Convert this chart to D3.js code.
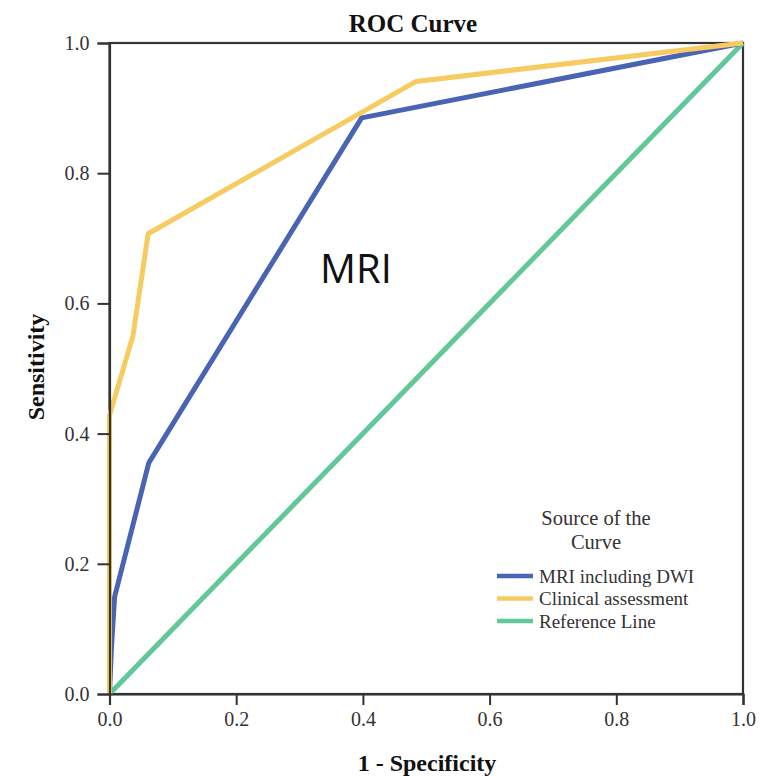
<!DOCTYPE html>
<html><head><meta charset="utf-8">
<script src="https://cdn.jsdelivr.net/npm/d3@7"></script>
<style>body{margin:0;background:#fff}svg{display:block}</style>
</head><body>
<script>
const xTicks = [0, 0.2, 0.4, 0.6, 0.8, 1.0];
const yTicks = [0, 0.2, 0.4, 0.6, 0.8, 1.0];
const mriFpr = [0, 0.003, 0.008, 0.062, 0.398, 1];
const mriTpr = [0, 0.07, 0.149, 0.355, 0.885, 1];
const clinFpr = [0, 0, 0.037, 0.061, 0.484, 1];
const clinTpr = [0, 0.428, 0.55, 0.707, 0.941, 1];
const refFpr = [0, 1];
const refTpr = [0, 1];
const seriesNames = ["MRI including DWI", "Clinical assessment", "Reference Line"];
const seriesColors = ["#4a64b4", "#f6cc62", "#62c799"];

const W = 776, H = 776;
const svg = d3.select("body").append("svg").attr("width", W).attr("height", H);
const x = d3.scaleLinear().domain([0, 1]).range([109.5, 743]);
const y = d3.scaleLinear().domain([0, 1]).range([694, 43]);
const serif = "'Liberation Serif','Times New Roman',serif";

// frame
svg.append("rect").attr("x", x(0)).attr("y", y(1)).attr("width", x(1) - x(0)).attr("height", y(0) - y(1))
  .attr("fill", "none").attr("stroke", "#333").attr("stroke-width", 2.2);

const line = d3.line().x(d => x(d[0])).y(d => y(d[1]));
const series = [
  d3.zip(refFpr, refTpr),
  d3.zip(mriFpr, mriTpr),
  d3.zip(clinFpr, clinTpr)
];
const order = [2, 0, 1];
series.forEach((s, i) => {
  svg.append("path").datum(s).attr("d", line).attr("fill", "none")
    .attr("stroke", seriesColors[order[i]]).attr("stroke-width", 5).attr("stroke-linejoin", "round");
});

// axes
const xAxis = d3.axisBottom(x).tickValues(xTicks).tickFormat(d3.format(".1f")).tickSize(11).tickPadding(7);
const gx = svg.append("g").attr("transform", `translate(0,${y(0)})`).call(xAxis);
const yAxis = d3.axisLeft(y).tickValues(yTicks).tickFormat(d3.format(".1f")).tickSize(12).tickPadding(8);
const gy = svg.append("g").attr("transform", `translate(${x(0)},0)`).call(yAxis);
[gx, gy].forEach(g => {
  g.select(".domain").attr("stroke", "#333").attr("stroke-width", 2.2);
  g.selectAll(".tick line").attr("stroke", "#333").attr("stroke-width", 2);
  g.selectAll(".tick text").attr("font-family", serif).attr("font-size", 20).attr("fill", "#333");
});

// titles
svg.append("text").attr("x", 413).attr("y", 32).attr("text-anchor", "middle")
  .attr("font-family", serif).attr("font-weight", "bold").attr("font-size", 25).attr("fill", "#111").text("ROC Curve");
svg.append("text").attr("x", 427).attr("y", 771).attr("text-anchor", "middle")
  .attr("font-family", serif).attr("font-weight", "bold").attr("font-size", 24).attr("fill", "#111").text("1 - Specificity");
svg.append("text").attr("transform", "translate(44,367) rotate(-90)").attr("text-anchor", "middle")
  .attr("font-family", serif).attr("font-weight", "bold").attr("font-size", 24).attr("fill", "#111").text("Sensitivity");

svg.append("text").attr("x", 356).attr("y", 283).attr("text-anchor", "middle")
  .attr("font-family", "'Open Sans','Noto Sans',sans-serif").attr("font-size", 40).attr("fill", "#111").text("MRI");

// legend
svg.append("text").attr("x", 596).attr("y", 525).attr("text-anchor", "middle")
  .attr("font-family", serif).attr("font-size", 20.5).attr("fill", "#333").text("Source of the");
svg.append("text").attr("x", 596).attr("y", 549).attr("text-anchor", "middle")
  .attr("font-family", serif).attr("font-size", 20.5).attr("fill", "#333").text("Curve");
const leg = svg.append("g");
seriesNames.forEach((n, i) => {
  const yy = 576 + i * 22.5;
  leg.append("line").attr("x1", 497).attr("x2", 533).attr("y1", yy).attr("y2", yy)
    .attr("stroke", seriesColors[i]).attr("stroke-width", 4.5);
  leg.append("text").attr("x", 539).attr("y", yy + 6.5).attr("font-family", serif)
    .attr("font-size", 19).attr("fill", "#333").text(n);
});
</script>
</body></html>
